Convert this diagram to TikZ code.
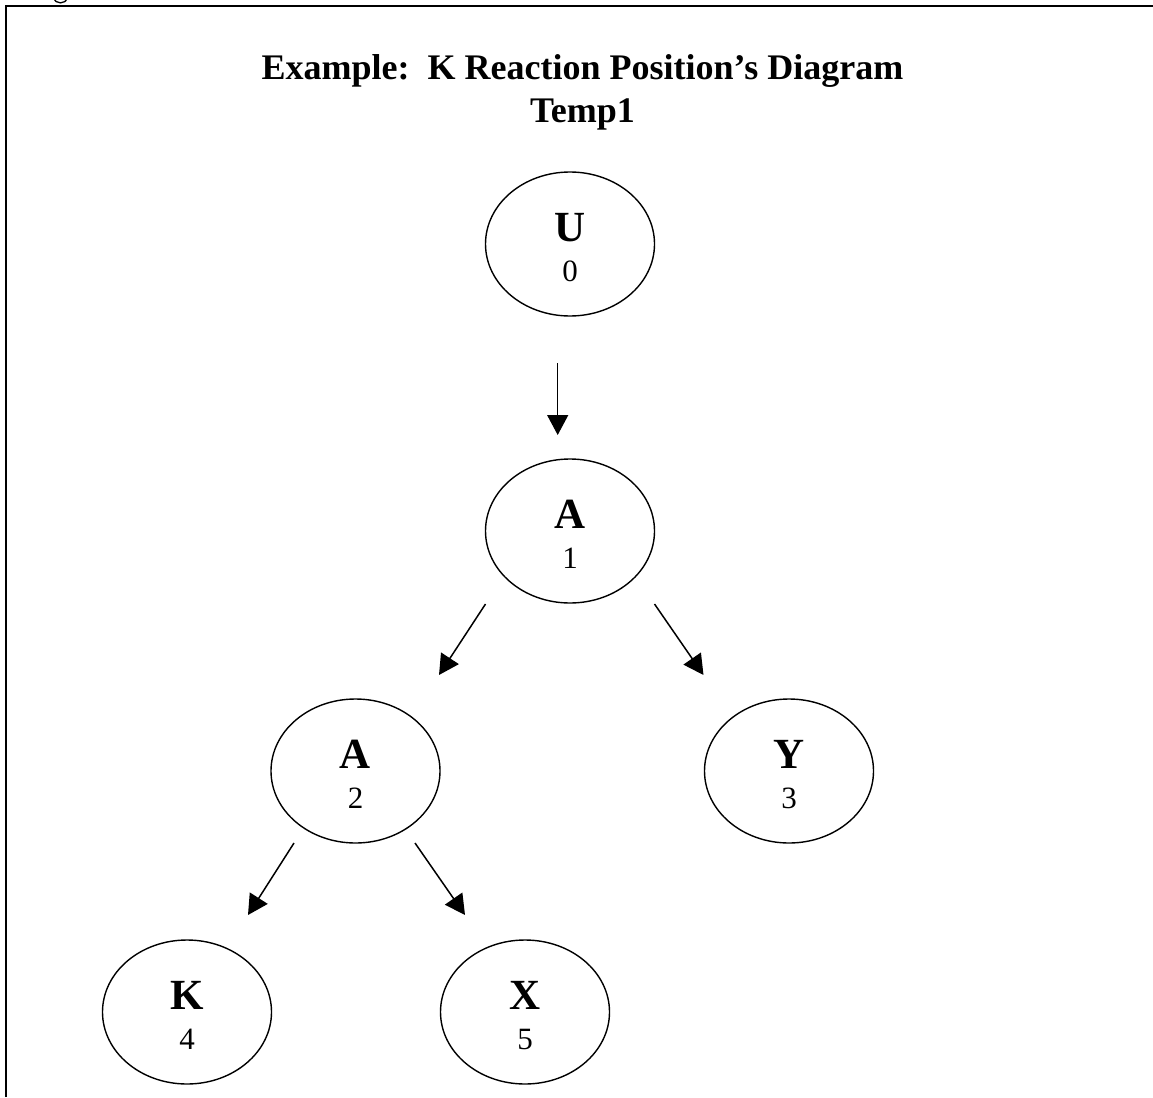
\documentclass[tikz,border=0pt]{standalone}
\usepackage{fontspec}
\setmainfont{Liberation Serif}
\usetikzlibrary{shapes.geometric,arrows.meta,calc}
\begin{document}
\begin{tikzpicture}[x=1pt,y=-1pt,
  state/.style={draw,ellipse,line width=1.4pt,minimum width=169pt,minimum height=144pt,inner sep=0pt,outer sep=0pt},
  sym/.style={anchor=base,font=\fontsize{43}{47}\selectfont\bfseries,inner sep=0pt},
  num/.style={anchor=base,font=\fontsize{31}{34}\selectfont,inner sep=0pt},
  arr/.style={line width=1.5pt,-{Triangle[length=20pt,width=21pt]}},
  ttl/.style={anchor=base,font=\fontsize{36}{40}\selectfont\bfseries,inner sep=0pt}]
\useasboundingbox (0,0) rectangle (1153,1097);
% frame
\draw[line width=2.2pt] (6,1097) -- (6,6) -- (1153,6);
% fragment of a cut-off glyph above the frame
\begin{scope}
\clip (0,0) rectangle (1153,5);
\draw[line width=1.3pt] (54,-2) .. controls (55,4.5) and (66,4.5) .. (67,-2);
\end{scope}
% title
\node[ttl] (t1) at (582.5,80) {Example:\ \ K Reaction Position’s Diagram};
\node[ttl] (t2) at (582.5,123) {Temp1};
% states
\node[state] (U) at (570,244) {};
\node[sym] (Ul) at (570,241) {U};
\node[num] (Un) at (570,281) {0};
\node[state] (A1) at (570,531) {};
\node[sym] (A1l) at (570,528) {A};
\node[num] (A1n) at (570,568) {1};
\node[state] (A2) at (355.5,771) {};
\node[sym] (A2l) at (355.5,768) {A};
\node[num] (A2n) at (355.5,808) {2};
\node[state] (Y) at (789,771) {};
\node[sym] (Yl) at (789,768) {Y};
\node[num] (Yn) at (789,808) {3};
\node[state] (K) at (187,1012) {};
\node[sym] (Kl) at (187,1009) {K};
\node[num] (Kn) at (187,1049) {4};
\node[state] (X) at (525,1012) {};
\node[sym] (Xl) at (525,1009) {X};
\node[num] (Xn) at (525,1049) {5};
% connectors
\draw[arr] ($(U.center)+(-12.3,119)$) -- ($(A1.center)+(-12.3,-96)$);
\draw[arr] ($(A1.center)+(-84.5,73)$) -- ($(A2.center)+(83.5,-96)$);
\draw[arr] ($(A1.center)+(84.5,73)$) -- ($(Y.center)+(-85.5,-96)$);
\draw[arr] ($(A2.center)+(-61.5,72)$) -- ($(K.center)+(61,-97)$);
\draw[arr] ($(A2.center)+(59.5,72)$) -- ($(X.center)+(-60,-97)$);
\end{tikzpicture}
\end{document}
